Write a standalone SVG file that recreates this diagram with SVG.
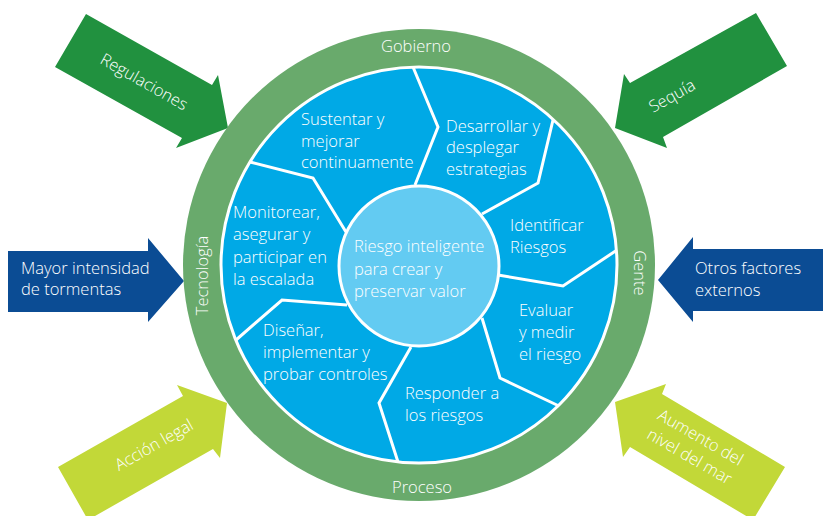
<svg xmlns="http://www.w3.org/2000/svg" width="823" height="516" viewBox="0 0 823 516">
<style>
text { font-family: "Open Sans", "Liberation Sans", sans-serif; font-size: 16.5px; fill: #ffffff; font-weight: 300; }
.mid { text-anchor: middle; }
.dg { fill: #21913f; }
.db { fill: #0b4c94; }
.lm { fill: #c2d838; }
.div { fill: none; stroke: #ffffff; stroke-width: 3; stroke-linejoin: miter; }
</style>
<rect width="823" height="516" fill="#ffffff"/>
<g id="arrow-regulaciones">
<polygon class="dg" points="86,14 212,85 218,75 228,128 176,148 182,138 55,67"/>
<text class="mid" transform="translate(144,82) rotate(29.5)" x="0" y="5.5">Regulaciones</text>
</g>
<g id="arrow-sequia">
<polygon class="dg" points="756,13 787,66 663,137 667,148 615,128 624,74 630,83"/>
<text class="mid" transform="translate(672,96) rotate(-29.5)" x="0" y="5.5">Sequía</text>
</g>
<g id="arrow-tormentas">
<polygon class="db" points="8,251 148,251 148,238 184,281 148,322 148,312 8,312"/>
<text x="21" y="274">Mayor intensidad</text>
<text x="21" y="295">de tormentas</text>
</g>
<g id="arrow-otros">
<polygon class="db" points="658,280 693,237 693,249 823,249 823,311 693,311 693,322"/>
<text x="695" y="274">Otros factores</text>
<text x="695" y="296">externos</text>
</g>
<g id="arrow-accion">
<polygon class="lm" points="58,467 183,396 177,385 227,403 220,458 213,449 88,520"/>
<text class="mid" transform="translate(154,445) rotate(-29.5)" x="0" y="5.5">Acción legal</text>
</g>
<g id="arrow-aumento">
<polygon class="lm" points="615,402 666,384 662,394 785,467 753,520 630,447 623,457"/>
<text class="mid" transform="translate(695,447) rotate(30)" x="0" y="-5.5">Aumento del</text>
<text class="mid" transform="translate(695,447) rotate(30)" x="0" y="16.5">nivel del mar</text>
</g>
<g id="ring">
<circle cx="419" cy="265" r="236" fill="#69aa6c"/>
<text class="mid" x="416" y="52">Gobierno</text>
<text class="mid" x="422" y="493">Proceso</text>
<text class="mid" transform="translate(208,275.5) rotate(-90)" x="0" y="0">Tecnología</text>
<text class="mid" transform="translate(634,273) rotate(90)" x="0" y="0">Gente</text>
</g>
<g id="wheel">
<circle cx="419" cy="265" r="198" fill="#00a9e6" stroke="#ffffff" stroke-width="3"/>
</g>
<g id="connectors">
<polyline class="div" points="413,67 438,127 415,185"/>
<polyline class="div" points="553,120 538,183 482,214"/>
<polyline class="div" points="250,162 313,178 346,232"/>
<polyline class="div" points="617,250 563,286 498,275"/>
<polyline class="div" points="482,318 500,378 559,406"/>
<polyline class="div" points="411,347 379,403 398,462"/>
<polyline class="div" points="347,305 282,300 236,340"/>
</g>
<g id="seg-sustentar">
<text x="301" y="125">Sustentar y</text>
<text x="301" y="147">mejorar</text>
<text x="301" y="168">continuamente</text>
</g>
<g id="seg-desarrollar">
<text x="446" y="132">Desarrollar y</text>
<text x="446" y="153">desplegar</text>
<text x="446" y="175">estrategias</text>
</g>
<g id="seg-identificar">
<text x="510" y="231">Identificar</text>
<text x="510" y="253">Riesgos</text>
</g>
<g id="seg-evaluar">
<text x="519" y="316">Evaluar</text>
<text x="519" y="338">y medir</text>
<text x="519" y="360">el riesgo</text>
</g>
<g id="seg-responder">
<text x="405" y="399">Responder a</text>
<text x="405" y="421">los riesgos</text>
</g>
<g id="seg-disenar">
<text x="263" y="336">Diseñar,</text>
<text x="263" y="358">implementar y</text>
<text x="263" y="380">probar controles</text>
</g>
<g id="seg-monitorear">
<text x="233" y="218">Monitorear,</text>
<text x="233" y="240">asegurar y</text>
<text x="233" y="263">participar en</text>
<text x="233" y="285">la escalada</text>
</g>
<g id="center">
<circle cx="419" cy="266" r="80" fill="#63cbf2" stroke="#ffffff" stroke-width="3"/>
<text x="354" y="252">Riesgo inteligente</text>
<text x="354" y="275">para crear y</text>
<text x="354" y="297">preservar valor</text>
</g>
</svg>
